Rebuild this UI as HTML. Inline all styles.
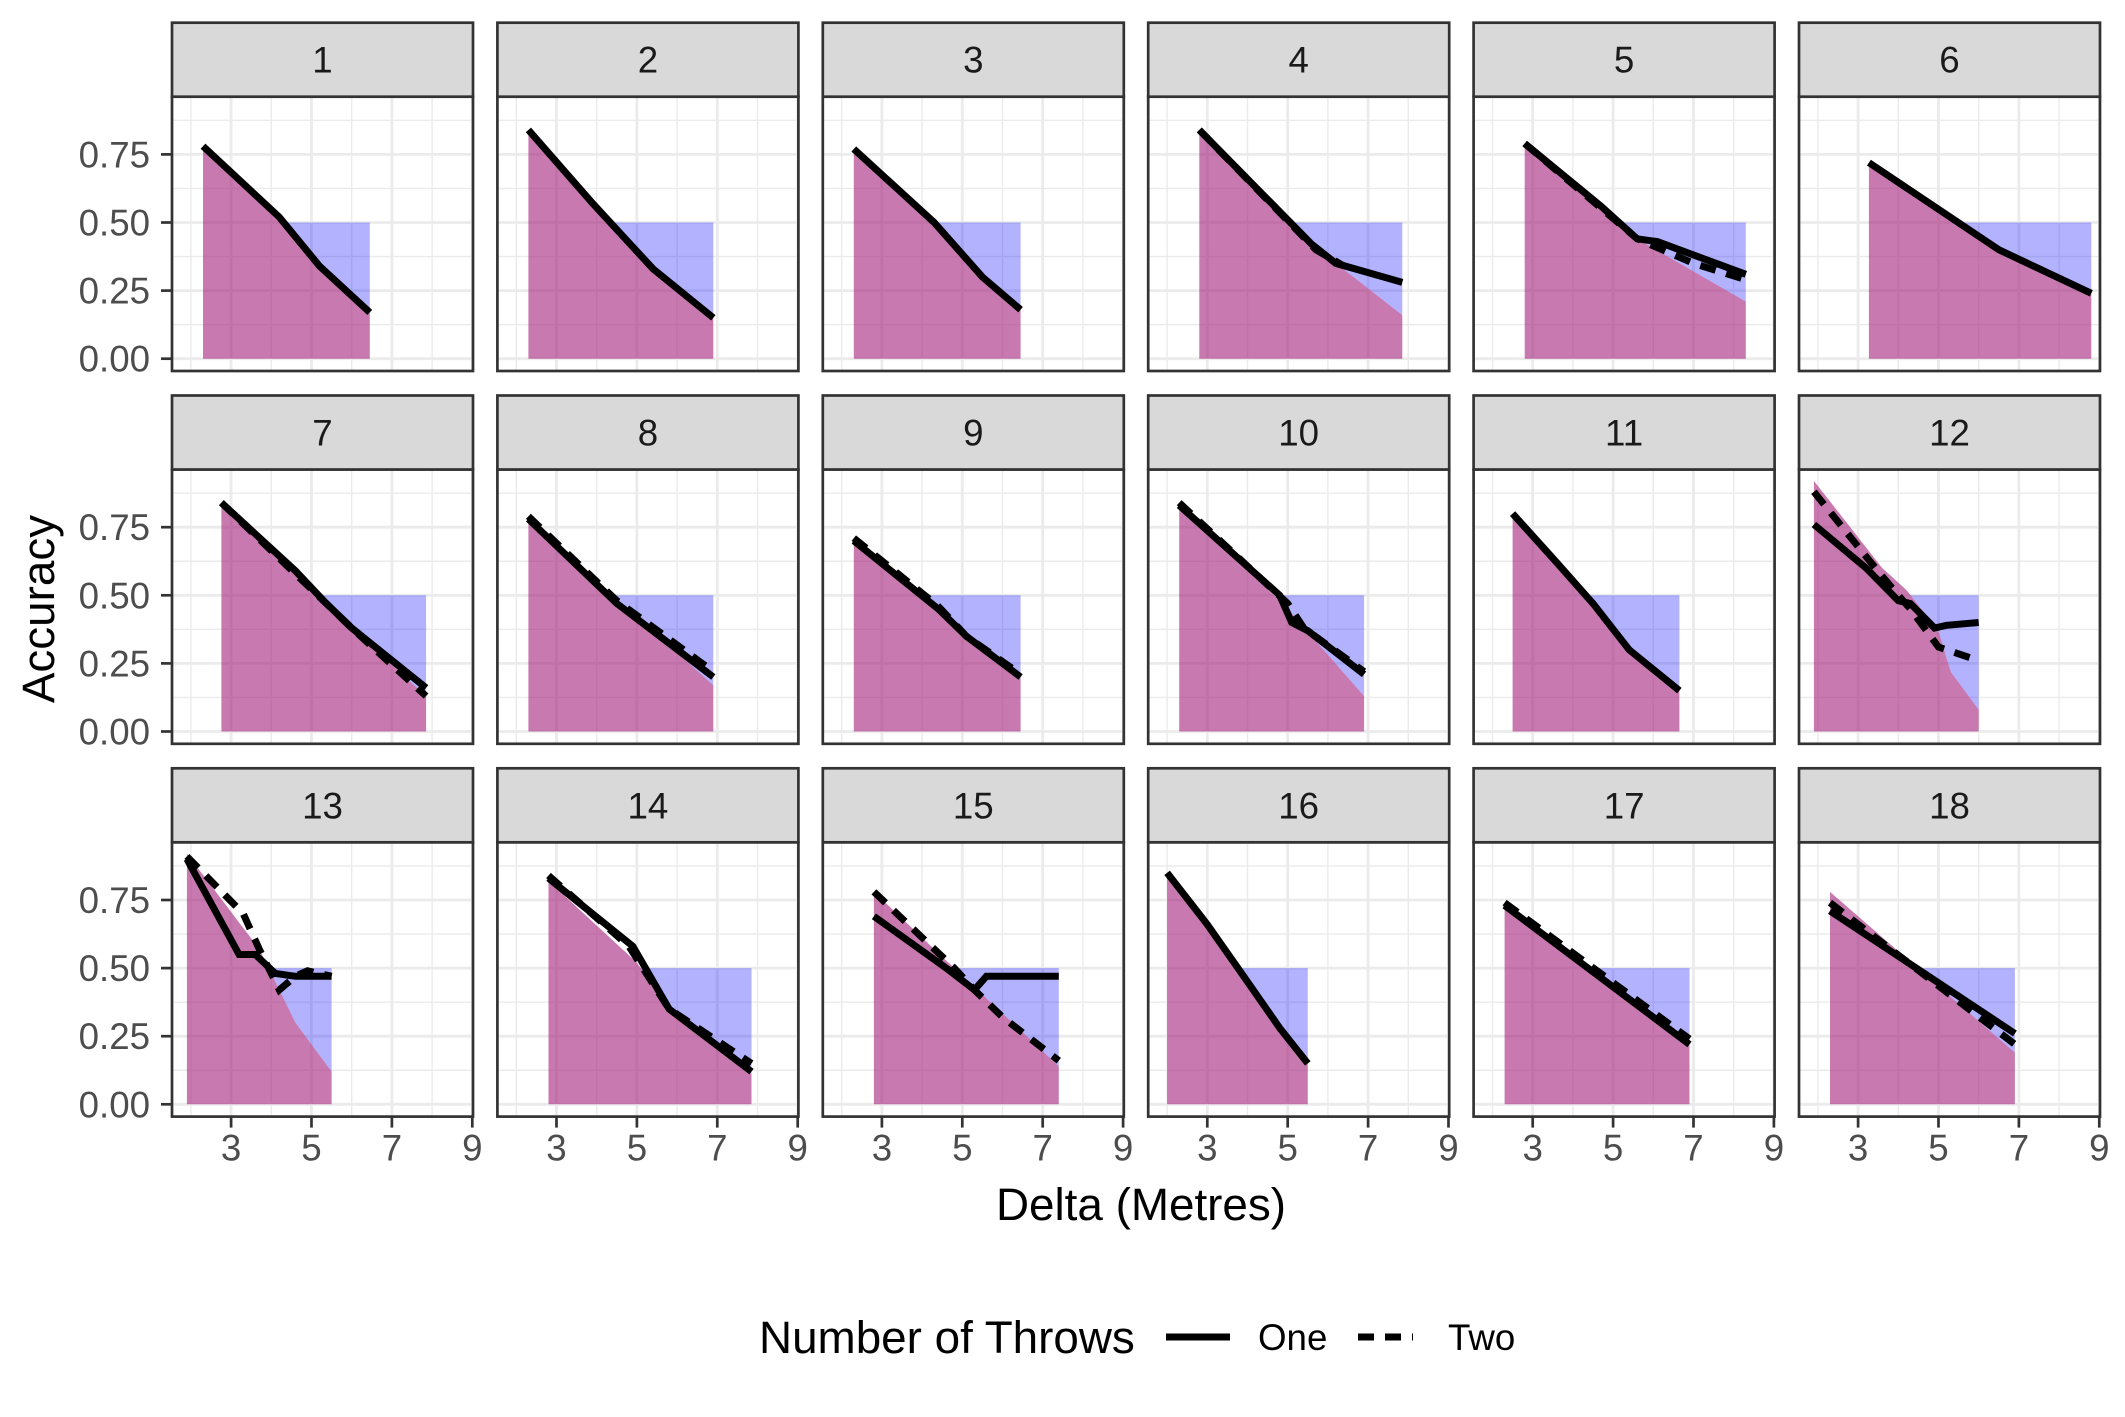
<!DOCTYPE html>
<html><head><meta charset="utf-8"><style>html,body{margin:0;padding:0;background:#fff}svg{display:block;font-family:"Liberation Sans",sans-serif}</style></head>
<body>
<svg id="chart" width="2125" height="1417" viewBox="0 0 2125 1417" xmlns="http://www.w3.org/2000/svg">
<text x="54" y="609" transform="rotate(-90 54 609)" text-anchor="middle" font-size="45.8" fill="#000">Accuracy</text>
<text x="1141" y="1220" text-anchor="middle" font-size="45.8" fill="#000">Delta (Metres)</text>
<g>
<text x="759" y="1353" font-size="45.8" fill="#000">Number of Throws</text>
<line x1="1166" y1="1337" x2="1230" y2="1337" stroke="#000" stroke-width="7"/>
<text x="1258" y="1350" font-size="36.7" fill="#000">One</text>
<line x1="1358" y1="1337" x2="1413" y2="1337" stroke="#000" stroke-width="7" stroke-dasharray="16,11"/>
<text x="1448" y="1350" font-size="36.7" fill="#000">Two</text>
</g>
<g id="panels"></g>
</svg>
<script>
const panelIds = ["1","2","3","4","5","6","7","8","9","10","11","12","13","14","15","16","17","18"];
const xRanges = [[2.3,6.45],[2.3,6.9],[2.3,6.45],[2.8,7.85],[2.8,8.3],[3.27,8.8],[2.76,7.85],[2.3,6.9],[2.3,6.45],[2.3,6.9],[2.5,6.65],[1.9,6.0],[1.9,5.5],[2.8,7.85],[2.8,7.4],[2.0,5.5],[2.3,6.9],[2.3,6.9]];
const seriesOne = [
[[2.3,.78],[4.2,.52],[5.2,.34],[6.45,.17]],
[[2.3,.84],[3.9,.57],[5.4,.33],[6.9,.15]],
[[2.3,.77],[4.3,.5],[5.5,.3],[6.45,.18]],
[[2.8,.84],[5.6,.42],[6.2,.35],[7.85,.28]],
[[2.8,.79],[4.7,.56],[5.6,.44],[6.1,.43],[8.3,.31]],
[[3.27,.72],[6.5,.40],[8.8,.24]],
[[2.76,.84],[4.6,.59],[5.3,.48],[6,.38],[7.85,.16]],
[[2.3,.78],[4.5,.47],[6.9,.2]],
[[2.3,.70],[4.4,.45],[5.1,.35],[6.45,.2]],
[[2.3,.83],[4.8,.5],[5.1,.4],[5.5,.37],[6.9,.21]],
[[2.5,.80],[3.6,.62],[4.5,.47],[5.4,.3],[6.65,.15]],
[[1.9,.76],[3.2,.6],[4.0,.48],[4.3,.47],[4.9,.38],[5.2,.39],[6.0,.40]],
[[1.9,.9],[3.2,.55],[3.6,.55],[4.1,.48],[4.6,.47],[5.5,.47]],
[[2.8,.83],[4.9,.58],[5.8,.35],[7.85,.12]],
[[2.8,.69],[4.6,.5],[5.3,.42],[5.6,.47],[7.4,.47]],
[[2.0,.85],[3.0,.66],[4.0,.45],[4.8,.28],[5.5,.15]],
[[2.3,.73],[6.9,.22]],
[[2.3,.71],[6.9,.26]]];
const seriesTwo = [null,null,null,
[[2.8,.84],[5.7,.40],[6.4,.34]],
[[2.8,.79],[5.6,.44],[7,.35],[8.3,.29]],
null,
[[2.76,.84],[6,.38],[7.85,.13]],
[[2.3,.79],[4.5,.48],[6.9,.22]],
[[2.3,.71],[4.4,.46],[5.1,.35],[6.45,.21]],
[[2.3,.84],[5.0,.47],[5.4,.38],[6.9,.22]],
null,
[[1.9,.88],[3.1,.66],[3.6,.57],[4.0,.50],[4.3,.45],[5.0,.31],[6.0,.26]],
[[1.9,.91],[3.3,.70],[3.7,.57],[4.2,.42],[4.6,.47],[4.9,.49],[5.5,.47]],
[[2.8,.84],[4.8,.58],[5.8,.35],[7.85,.15]],
[[2.8,.78],[4.8,.5],[5.3,.42],[6.0,.32],[7.4,.16]],
null,
[[2.3,.74],[6.9,.24]],
[[2.3,.74],[6.9,.22]]];
const modelArea = [
[[2.3,.78],[4.2,.52],[5.2,.34],[6.45,.17]],
[[2.3,.84],[3.9,.57],[5.4,.33],[6.9,.15]],
[[2.3,.77],[4.3,.5],[5.5,.3],[6.45,.18]],
[[2.8,.84],[5.6,.42],[7.85,.16]],
[[2.8,.79],[5.6,.44],[8.3,.21]],
[[3.27,.72],[6.5,.40],[8.8,.24]],
[[2.76,.84],[6,.38],[7.85,.13]],
[[2.3,.78],[6.9,.17]],
[[2.3,.70],[4.4,.45],[5.1,.35],[6.45,.2]],
[[2.3,.84],[5,.45],[6.9,.13]],
[[2.5,.80],[3.6,.62],[4.5,.47],[5.4,.3],[6.65,.15]],
[[1.9,.92],[3.6,.6],[4.2,.52],[5.0,.37],[5.3,.22],[6.0,.08]],
[[1.9,.92],[3.7,.57],[4.6,.3],[5.5,.12]],
[[2.8,.82],[5,.52],[5.8,.35],[7.85,.11]],
[[2.8,.78],[4.8,.5],[7.4,.14]],
[[2.0,.85],[3.0,.66],[4.0,.45],[4.8,.28],[5.5,.15]],
[[2.3,.74],[6.9,.22]],
[[2.3,.78],[6.9,.19]]];
const yTicks = [0,0.25,0.5,0.75];
const yTickLabels = ["0.00","0.25","0.50","0.75"];
const xTicks = [3,5,7,9];
const xTickLabels = ["3","5","7","9"];

const NS="http://www.w3.org/2000/svg";
const root=document.getElementById('panels');
function mk(tag,attrs,parent){const e=document.createElementNS(NS,tag);for(const k in attrs)e.setAttribute(k,attrs[k]);parent.appendChild(e);return e;}
function interp(pts,x){if(x<=pts[0][0])return pts[0][1];for(let i=1;i<pts.length;i++){if(x<=pts[i][0]){const a=pts[i-1],b=pts[i];return a[1]+(b[1]-a[1])*(x-a[0])/(b[0]-a[0]);}}return pts[pts.length-1][1];}
const PW=301, SH=74, PH=274.3;
panelIds.forEach((id,i)=>{
  const c=i%6, r=Math.floor(i/6);
  const L=172+325.4*c, T=22.7+372.8*r, PT=T+SH, PB=PT+PH;
  const sx=v=>L+(v-1.53)*40.2;
  const sy=v=>PB-12.3-v*272.4;
  const g=mk('g',{},root);
  
  
  mk('rect',{x:L,y:PT,width:PW,height:PH,fill:'#fff'},g);
  [0.125,0.375,0.625,0.875].forEach(v=>mk('line',{x1:L,x2:L+PW,y1:sy(v),y2:sy(v),stroke:'#EBEBEB','stroke-width':1.4},g));
  [2,4,6,8].forEach(v=>mk('line',{x1:sx(v),x2:sx(v),y1:PT,y2:PB,stroke:'#EBEBEB','stroke-width':1.4},g));
  yTicks.forEach(v=>mk('line',{x1:L,x2:L+PW,y1:sy(v),y2:sy(v),stroke:'#EBEBEB','stroke-width':2.8},g));
  xTicks.forEach(v=>mk('line',{x1:sx(v),x2:sx(v),y1:PT,y2:PB,stroke:'#EBEBEB','stroke-width':2.8},g));
  const [x0,x1]=xRanges[i];
  const m=modelArea[i];
  const N=60; let top=[],bot=[];
  for(let k=0;k<=N;k++){const x=x0+(x1-x0)*k/N;const y=interp(m,x);top.push([x,0.5]);bot.push([x,Math.min(y,0.5)]);}
  const blue=mk('polygon',{points:top.concat(bot.reverse()).map(p=>sx(p[0]).toFixed(1)+','+sy(p[1]).toFixed(1)).join(' '),fill:'#0000FF','fill-opacity':0.3},g);
  
  
  let ap=[[x0,0]];for(let k=0;k<=N;k++){const x=x0+(x1-x0)*k/N;ap.push([x,interp(m,x)]);}ap.push([x1,0]);
  const mag=mk('polygon',{points:ap.map(p=>sx(p[0]).toFixed(1)+','+sy(p[1]).toFixed(1)).join(' '),fill:'#A3217B','fill-opacity':0.6},g);
  
  
  if(seriesTwo[i]){const l=mk('polyline',{points:seriesTwo[i].map(p=>sx(p[0]).toFixed(1)+','+sy(p[1]).toFixed(1)).join(' '),fill:'none',stroke:'#000','stroke-width':7,'stroke-dasharray':'16,11'},g);
    
    }
  const l1=mk('polyline',{points:seriesOne[i].map(p=>sx(p[0]).toFixed(1)+','+sy(p[1]).toFixed(1)).join(' '),fill:'none',stroke:'#000','stroke-width':7},g);
  
  
  mk('rect',{x:L,y:PT,width:PW,height:PH,fill:'none',stroke:'#333','stroke-width':2.7},g);
  const st=mk('rect',{x:L,y:T,width:PW,height:SH,fill:'#D9D9D9',stroke:'#333','stroke-width':2.7},g);
  
  
  const tx=mk('text',{x:L+PW/2,y:T+SH/2+13,'text-anchor':'middle','font-size':36.7,fill:'#1A1A1A'},g);
  tx.textContent=id;
  
  
  if(c===0){yTicks.forEach((v,k)=>{mk('line',{x1:L-11,x2:L,y1:sy(v),y2:sy(v),stroke:'#333','stroke-width':2.7},g);
    const t=mk('text',{x:L-22,y:sy(v)+13,'text-anchor':'end','font-size':36.7,fill:'#4D4D4D'},g);t.textContent=yTickLabels[k];
    
    });}
  if(r===2){xTicks.forEach((v,k)=>{mk('line',{x1:sx(v),x2:sx(v),y1:PB,y2:PB+11,stroke:'#333','stroke-width':2.7},g);
    const t=mk('text',{x:sx(v),y:PB+44,'text-anchor':'middle','font-size':36.7,fill:'#4D4D4D'},g);t.textContent=xTickLabels[k];
    
    });}
});
</script>
</body></html>
